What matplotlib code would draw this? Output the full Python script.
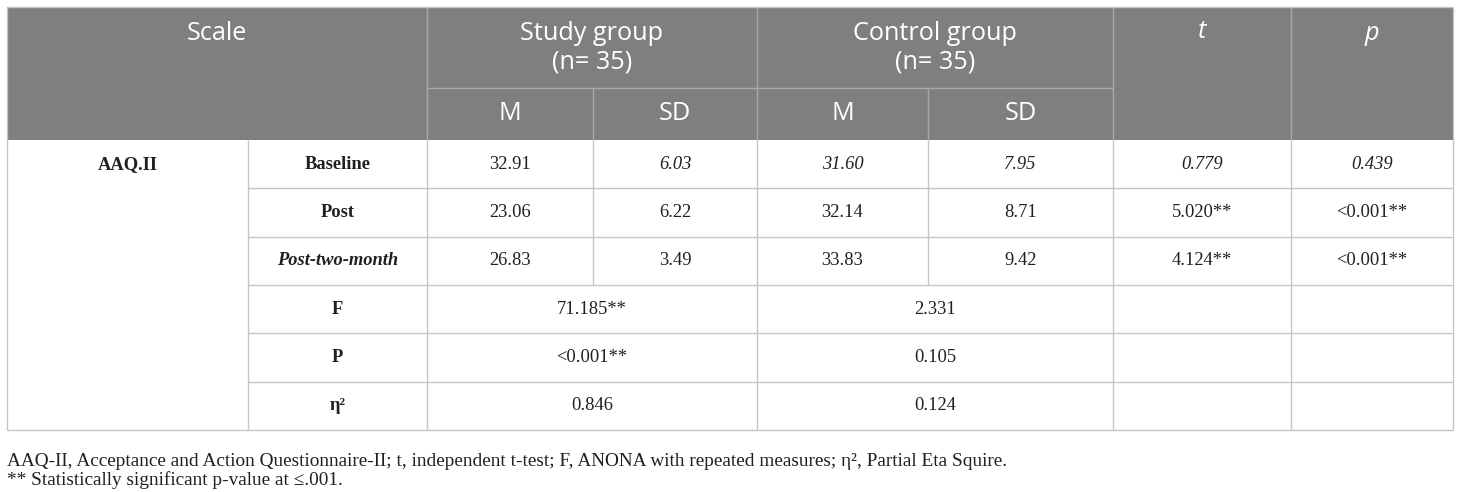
import matplotlib
matplotlib.use("Agg")
import matplotlib.pyplot as plt
from matplotlib.patches import Rectangle

# ---- data ----
group_headers = [("Study group", "(n= 35)"), ("Control group", "(n= 35)")]
sub_headers = ["M", "SD", "M", "SD"]
scale_name = "AAQ.II"
time_labels = ["Baseline", "Post", "Post-two-month"]
study_m = ["32.91", "23.06", "26.83"]
study_sd = ["6.03", "6.22", "3.49"]
control_m = ["31.60", "32.14", "33.83"]
control_sd = ["7.95", "8.71", "9.42"]
t_values = ["0.779", "5.020**", "4.124**"]
p_values = ["0.439", "<0.001**", "<0.001**"]
stat_labels = ["F", "P", "η²"]
study_stats = ["71.185**", "<0.001**", "0.846"]
control_stats = ["2.331", "0.105", "0.124"]
footnotes = [
    "AAQ-II, Acceptance and Action Questionnaire-II; t, independent t-test; F, ANONA with repeated measures; η², Partial Eta Squire.",
    "** Statistically significant p-value at ≤.001.",
]
# italic flags for baseline row as printed
italic_baseline = {"study_m": False, "study_sd": True, "control_m": True,
                   "control_sd": True, "t": True, "p": True}

# ---- layout (pixels) ----
W, H = 1460, 492
cols = [7, 248, 427, 593, 757, 928, 1113, 1291, 1453]
top, hmid, hbot = 7, 88, 140
row_h = (430 - hbot) / 6.0
rows = [hbot + i * row_h for i in range(7)]
header_bg = "#7f7f7f"
header_line = "#a8a8a8"
grid = "#c6c6c6"
serif = ["Liberation Serif", "DejaVu Serif"]
sans = ["Open Sans", "DejaVu Sans"]
hfs = 18.2
bfs = 13.3
ffs = 13.85
txt = "#231f20"

fig = plt.figure(figsize=(W / 100, H / 100), dpi=100)
ax = fig.add_axes([0, 0, 1, 1])
ax.set_xlim(0, W)
ax.set_ylim(H, 0)
ax.axis("off")

# header background
ax.add_patch(Rectangle((cols[0], top), cols[-1] - cols[0], hbot - top,
                       facecolor=header_bg, edgecolor="none", zorder=0))

def vline(x, y0, y1, c):
    ax.plot([x, x], [y0, y1], color=c, lw=1, zorder=2, solid_capstyle="butt")

def hline(y, x0, x1, c):
    ax.plot([x0, x1], [y, y], color=c, lw=1, zorder=2, solid_capstyle="butt")

# header lines
for x in [cols[2], cols[4], cols[6], cols[7]]:
    vline(x, top, hbot, header_line)
for x in [cols[3], cols[5]]:
    vline(x, hmid, hbot, header_line)
hline(hmid, cols[2], cols[6], header_line)
hline(top, cols[0], cols[-1], grid)

# body lines
vline(cols[0], top, rows[-1], grid)
vline(cols[-1], top, rows[-1], grid)
for x in [cols[1], cols[2], cols[4], cols[6], cols[7]]:
    vline(x, hbot, rows[-1], grid)
for x in [cols[3], cols[5]]:
    vline(x, hbot, rows[3], grid)
for i in range(1, 6):
    hline(rows[i], cols[1], cols[-1], grid)
hline(rows[-1], cols[0], cols[-1], grid)

def cx(a, b):
    return (cols[a] + cols[b]) / 2

def htext(x, y, s, style="normal"):
    ax.text(x, y, s, ha="center", va="center", color="white", fontsize=hfs,
            family=sans, style=style, zorder=3)

def btext(x, y, s, weight="normal", style="normal"):
    ax.text(x, y, s, ha="center", va="center", color=txt, fontsize=bfs,
            family=serif, weight=weight, style=style, zorder=3)

# header text
htext(cx(0, 2), 33, "Scale")
for g, (l1, l2) in enumerate(group_headers):
    htext(cx(2 + 2 * g, 4 + 2 * g), 33, l1)
    htext(cx(2 + 2 * g, 4 + 2 * g), 62, l2)
htext(cx(6, 7), 31, "t", style="italic")
htext(cx(7, 8), 33, "p", style="italic")
for i, s in enumerate(sub_headers):
    htext(cx(2 + i, 3 + i), 114, s)

# body
rc = [(rows[i] + rows[i + 1]) / 2 for i in range(6)]
btext(cx(0, 1), rc[0], scale_name, weight="bold")
for i, lab in enumerate(time_labels):
    btext(cx(1, 2), rc[i], lab, weight="bold", style="italic" if i == 2 else "normal")
    it = (lambda k: "italic" if (i == 0 and italic_baseline[k]) else "normal")
    btext(cx(2, 3), rc[i], study_m[i], style=it("study_m"))
    btext(cx(3, 4), rc[i], study_sd[i], style=it("study_sd"))
    btext(cx(4, 5), rc[i], control_m[i], style=it("control_m"))
    btext(cx(5, 6), rc[i], control_sd[i], style=it("control_sd"))
    btext(cx(6, 7), rc[i], t_values[i], style=it("t"))
    btext(cx(7, 8), rc[i], p_values[i], style=it("p"))
for j, lab in enumerate(stat_labels):
    r = 3 + j
    btext(cx(1, 2), rc[r], lab, weight="bold")
    btext(cx(2, 4), rc[r], study_stats[j])
    btext(cx(4, 6), rc[r], control_stats[j])

# footnotes
ax.text(cols[0], 461, footnotes[0], ha="left", va="center", fontsize=ffs,
        family=serif, color=txt)
ax.text(cols[0], 480, footnotes[1], ha="left", va="center", fontsize=ffs,
        family=serif, color=txt)

fig.savefig("out.png", dpi=100, facecolor="white")
